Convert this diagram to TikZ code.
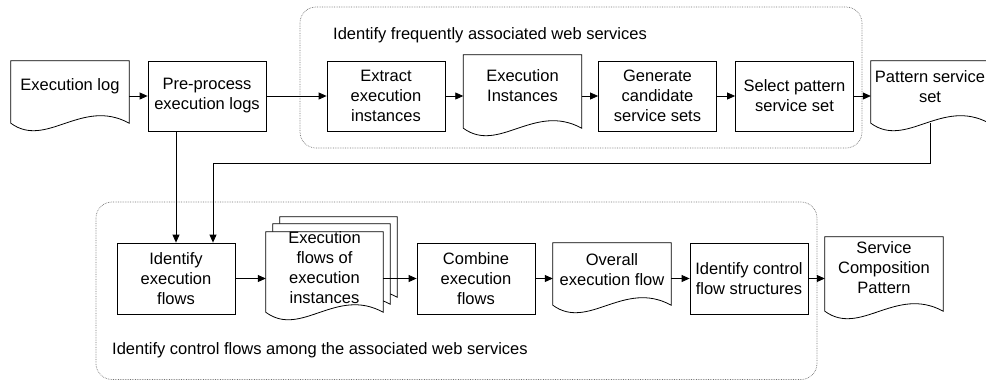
\documentclass[tikz,border=0pt]{standalone}
\usepackage{fontspec}
\setmainfont{Liberation Sans}
\usetikzlibrary{arrows.meta,calc}
\pgfdeclarelayer{bg}
\pgfsetlayers{bg,main}
\tikzset{
 proc/.style={draw, line width=0.8pt, minimum width=118pt, minimum height=70pt, inner sep=0pt, align=center, font=\fontsize{16.5}{20}\selectfont},
 docnode/.style={inner sep=0pt, minimum width=118pt, align=center, font=\fontsize{16.5}{20}\selectfont},
 docline/.style={draw, line width=0.8pt, fill=white},
 arr/.style={line width=0.8pt, -{Triangle[length=8pt,width=7pt]}},
 group/.style={draw=black!55, densely dotted, line width=0.7pt, rounded corners=16pt},
 gtitle/.style={anchor=west, inner sep=0pt, font=\fontsize{16.5}{20}\selectfont},
}
% #1 node, #2 drop below node, #3 dx, #4 dy
\newcommand\docout[4]{%
 \draw[docline] ($(#1.north west)+(#3,#4)$) -- ($(#1.north east)+(#3,#4)$) -- ($(#1.south east)+(#3,#2+#4)$)
  .. controls ($(#1.south west)!0.6!(#1.south east)+(#3,#2+#4-26)$) and ($(#1.south west)!0.3!(#1.south east)+(#3,#2+#4+26)$) .. ($(#1.south west)+(#3,#2+#4)$) -- cycle;}
\begin{document}
\begin{tikzpicture}[x=1pt,y=-1pt]
\useasboundingbox (0,0) rectangle (986,381);
% groups
\draw[group] (300,7) rectangle (862,148);
\draw[group] (96,202) rectangle (817,379.5);
\node[gtitle] (t1) at (333,35) {Identify frequently associated web services};
\node[gtitle] (t2) at (112,350) {Identify control flows among the associated web services};
% top row
\node[docnode, minimum height=50pt] (elog) at (70,86) {Execution log};
\node[proc] (pre) at (207,96) {Pre-process\\execution logs};
\node[proc] (ext) at (386,96) {Extract\\execution\\instances};
\node[docnode, minimum height=62pt] (inst) at (522.5,86) {Execution\\Instances};
\node[proc] (gen) at (657.5,96) {Generate\\candidate\\service sets};
\node[proc] (sel) at (794.5,96) {Select pattern\\service set};
\node[docnode, minimum height=52pt] (pset) at (930,87) {Pattern service\\set};
% bottom row
\node[proc, minimum height=71pt] (ief) at (176,278.5) {Identify\\execution\\flows};
\node[docnode, minimum width=117pt, minimum height=72pt] (mdoc) at (324.5,268) {Execution\\flows of\\execution\\instances};
\node[proc, minimum height=71pt] (comb) at (476,278.5) {Combine\\execution\\flows};
\node[docnode, minimum height=54pt] (ovf) at (612,270) {Overall\\execution flow};
\node[proc, minimum height=71pt] (icf) at (749,278.5) {Identify control\\flow structures};
\node[docnode, minimum height=62pt] (scp) at (884,268) {Service\\Composition\\Pattern};
% document outlines
\begin{pgfonlayer}{bg}
\docout{elog}{12}{0}{0}
\docout{inst}{11}{0}{0}
\docout{pset}{10}{0}{0}
\docout{mdoc}{8}{14}{-15}
\docout{mdoc}{8}{7}{-8}
\docout{mdoc}{8}{0}{0}
\docout{ovf}{8}{0}{0}
\docout{scp}{12}{0}{0}
\end{pgfonlayer}
% connectors
\draw[arr] (pre.west -| elog.east) -- (pre.west);
\draw[arr] (pre.east) -- (ext.west);
\draw[arr] (ext.east) -- (ext.east -| inst.west);
\draw[arr] (gen.west -| inst.east) -- (gen.west);
\draw[arr] (gen.east) -- (sel.west);
\draw[arr] (sel.east) -- (sel.east -| pset.west);
\draw[arr] (pre.south -| ief.north) -- (ief.north);
\draw[arr] ($(pset.south)+(0,10)$) -- ++(0,40) -| ($(ief.north)+(37,0)$);
\draw[arr] (ief.east) -- (ief.east -| mdoc.west);
\draw[arr] (comb.west -| mdoc.east) -- (comb.west);
\draw[arr] (comb.east) -- (comb.east -| ovf.west);
\draw[arr] (icf.west -| ovf.east) -- (icf.west);
\draw[arr] (icf.east) -- (icf.east -| scp.west);
\end{tikzpicture}
\end{document}
